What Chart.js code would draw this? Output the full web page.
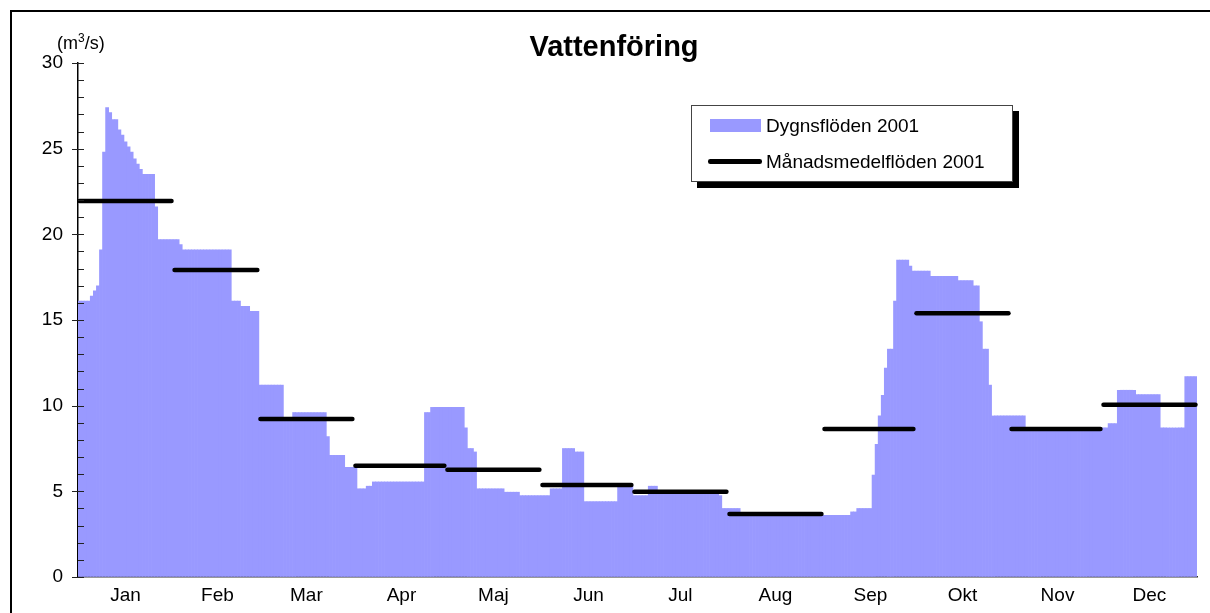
<!DOCTYPE html>
<html>
<head>
<meta charset="utf-8">
<title>Vattenföring</title>
<script src="https://cdn.jsdelivr.net/npm/chart.js"></script>
<style>
  body { margin: 0; background: #fff; overflow: hidden; font-family: 'Liberation Sans', Arial, sans-serif; }
  #wrap { position: relative; width: 1210px; height: 613px; }
  #frame { position: absolute; left: 10px; top: 10px; width: 1400px; height: 800px; border-left: 2px solid #000; border-top: 2px solid #000; pointer-events: none; }
  #title { position: absolute; left: 614px; top: 29px; transform: translateX(-50%); font-size: 29px; line-height: 34px; font-weight: bold; color: #000; white-space: nowrap; }
  #unit { position: absolute; left: 57px; top: 33px; font-size: 18px; line-height: 20px; color: #000; }
  #unit sup { font-size: 12px; line-height: 0; vertical-align: 7px; }
  #legend { position: absolute; left: 691px; top: 105px; width: 320px; height: 75px; border: 1px solid #444; background: #fff; box-shadow: 6px 6px 0 #000; }
  #legend .txt { position: absolute; left: 74px; font-size: 19px; line-height: 22px; color: #000; white-space: nowrap; }
  #legend .swatch { position: absolute; left: 18px; top: 13px; width: 51px; height: 13px; background: #9999ff; }
  #legend .bar { position: absolute; left: 16px; top: 53px; width: 54px; height: 4.5px; border-radius: 2.25px; background: #000; }
</style>
</head>
<body>
<div id="wrap">
  <canvas id="myChart"></canvas>
  <div id="title">Vattenföring</div>
  <div id="unit">(m<sup>3</sup>/s)</div>
  <div id="legend">
    <div class="swatch"></div><div class="txt" style="top:9px">Dygnsflöden 2001</div>
    <div class="bar"></div><div class="txt" style="top:45px">Månadsmedelflöden 2001</div>
  </div>
  <div id="frame"></div>
</div>
<script>
const monthNames = ['Jan', 'Feb', 'Mar', 'Apr', 'Maj', 'Jun', 'Jul', 'Aug', 'Sep', 'Okt', 'Nov', 'Dec']

// daily flows 2001 (m3/s), one array per month
const jan = [16.1, 16.1, 16.1, 16.1, 16.4, 16.7, 17.0, 19.1, 24.8, 27.4, 27.1, 26.7, 26.7, 26.1, 25.8, 25.4,
  25.1, 24.8, 24.4, 24.1, 23.8, 23.5, 23.5, 23.5, 23.5, 21.6, 19.7, 19.7, 19.7, 19.7, 19.7]
const feb = [19.7, 19.7, 19.4, 19.1, 19.1, 19.1, 19.1, 19.1, 19.1, 19.1, 19.1, 19.1, 19.1, 19.1, 19.1, 19.1,
  19.1, 19.1, 19.1, 16.1, 16.1, 16.1, 15.8, 15.8, 15.8, 15.5, 15.5, 15.5]
const mar = [11.2, 11.2, 11.2, 11.2, 11.2, 11.2, 11.2, 11.2, 9.3, 9.3, 9.3, 9.6, 9.6, 9.6, 9.6, 9.6,
  9.6, 9.6, 9.6, 9.6, 9.6, 9.6, 8.2, 7.1, 7.1, 7.1, 7.1, 7.1, 6.4, 6.4, 6.4]
const apr = [6.4, 5.15, 5.15, 5.15, 5.3, 5.3, 5.55, 5.55, 5.55, 5.55, 5.55, 5.55, 5.55, 5.55, 5.55, 5.55,
  5.55, 5.55, 5.55, 5.55, 5.55, 5.55, 5.55, 9.6, 9.6, 9.9, 9.9, 9.9, 9.9, 9.9]
const may = [9.9, 9.9, 9.9, 9.9, 9.9, 9.9, 8.7, 7.5, 7.5, 7.3, 5.15, 5.15, 5.15, 5.15, 5.15, 5.15,
  5.15, 5.15, 5.15, 4.95, 4.95, 4.95, 4.95, 4.95, 4.75, 4.75, 4.75, 4.75, 4.75, 4.75, 4.75]
const jun = [4.75, 4.75, 4.75, 5.15, 5.15, 5.15, 5.15, 7.5, 7.5, 7.5, 7.5, 7.3, 7.3, 7.3, 4.4, 4.4,
  4.4, 4.4, 4.4, 4.4, 4.4, 4.4, 4.4, 4.4, 4.4, 5.3, 5.3, 5.3, 5.3, 5.3]
const jul = [4.75, 4.75, 4.75, 4.75, 4.75, 5.3, 5.3, 5.3, 5.0, 5.0, 5.0, 5.0, 5.0, 5.0, 5.0, 5.0,
  5.0, 5.0, 5.0, 5.0, 5.0, 5.0, 5.0, 5.0, 5.0, 5.0, 5.0, 5.0, 4.75, 4.0, 4.0]
const aug = [4.0, 4.0, 4.0, 4.0, 3.55, 3.55, 3.55, 3.55, 3.55, 3.55, 3.55, 3.55, 3.55, 3.55, 3.55, 3.55,
  3.55, 3.55, 3.55, 3.55, 3.55, 3.55, 3.55, 3.55, 3.55, 3.55, 3.55, 3.55, 3.55, 3.55, 3.55]
const sep = [3.6, 3.6, 3.6, 3.6, 3.6, 3.6, 3.6, 3.6, 3.6, 3.8, 3.8, 4.0, 4.0, 4.0, 4.0, 4.0,
  5.95, 7.75, 9.4, 10.6, 12.2, 13.3, 13.3, 16.1, 18.5, 18.5, 18.5, 18.5, 18.15, 17.85]
const oct = [17.85, 17.85, 17.85, 17.85, 17.85, 17.55, 17.55, 17.55, 17.55, 17.55, 17.55, 17.55, 17.55, 17.55, 17.3, 17.3,
  17.3, 17.3, 17.3, 17.0, 17.0, 14.9, 13.3, 13.3, 11.2, 9.4, 9.4, 9.4, 9.4, 9.4, 9.4]
const nov = [9.4, 9.4, 9.4, 9.4, 9.4, 8.55, 8.55, 8.55, 8.55, 8.55, 8.55, 8.55, 8.55, 8.55, 8.55, 8.55,
  8.55, 8.55, 8.55, 8.55, 8.55, 8.55, 8.55, 8.55, 8.55, 8.55, 8.55, 8.55, 8.55, 8.55]
const dec = [8.7, 8.7, 8.95, 8.95, 8.95, 10.9, 10.9, 10.9, 10.9, 10.9, 10.9, 10.65, 10.65, 10.65, 10.65, 10.65,
  10.65, 10.65, 10.65, 8.7, 8.7, 8.7, 8.7, 8.7, 8.7, 8.7, 8.7, 11.7, 11.7, 11.7, 11.7]

// monthly mean flows 2001 (m3/s)
const monthMeans = [21.95, 17.92, 9.22, 6.5, 6.26, 5.37, 4.98, 3.68, 8.64, 15.4, 8.64, 10.06]

const yTickLabels = [0, 5, 10, 15, 20, 25, 30]

const dailyByMonth = [jan, feb, mar, apr, may, jun, jul, aug, sep, oct, nov, dec]
const dailyFlow = dailyByMonth.flat()
const dayLabels = dailyFlow.map((v, i) => String(i + 1))

// month index of every day, used for the mean line and the x labels
const dayMonth = []
dailyByMonth.forEach((days, m) => days.forEach(() => dayMonth.push(m)))
const meanLine = dayMonth.map(m => monthMeans[m])

// month name is put under the middle day of each month
const labelAt = {}
let first = 0
dailyByMonth.forEach((days, m) => {
  labelAt[first + Math.floor(days.length / 2)] = monthNames[m]
  first += days.length
})

Chart.defaults.font.family = "'Liberation Sans', Arial, sans-serif"
Chart.defaults.color = '#000'

// small tick marks on the y axis: majors cross the axis, minors point inward
const yTicks = {
  id: 'yTicks',
  afterDraw(chart) {
    const ctx = chart.ctx
    const y = chart.scales.y
    const x0 = chart.chartArea.left
    ctx.save()
    ctx.strokeStyle = '#222'
    ctx.lineWidth = 1
    for (let v = y.min; v <= y.max; v++) {
      const py = Math.round(y.getPixelForValue(v)) + 0.5
      ctx.beginPath()
      ctx.moveTo(yTickLabels.includes(v) ? x0 - 6 : x0, py)
      ctx.lineTo(x0 + 6, py)
      ctx.stroke()
    }
    ctx.restore()
  }
}

const ctx = document.getElementById('myChart').getContext('2d')
const myChart = new Chart(ctx, {
  type: 'bar',
  data: {
    labels: dayLabels,
    datasets: [{
      type: 'line',
      label: 'Månadsmedelflöden 2001',
      data: meanLine,
      borderColor: '#000',
      borderWidth: 4.5,
      borderCapStyle: 'round',
      pointRadius: 0,
      tension: 0,
      order: 0,
      segment: {
        // no line between two months
        borderColor: c => dayMonth[c.p0DataIndex] === dayMonth[c.p1DataIndex] ? '#000' : 'rgba(0,0,0,0)'
      }
    }, {
      label: 'Dygnsflöden 2001',
      data: dailyFlow,
      backgroundColor: '#9999ff',
      borderWidth: 0,
      barPercentage: 1,
      categoryPercentage: 1,
      order: 1
    }]
  },
  options: {
    responsive: true,
    maintainAspectRatio: false,
    animation: false,
    layout: { padding: { left: 0, top: 63, right: 13, bottom: 0 } },
    plugins: {
      legend: { display: false },
      title: { display: false },
      tooltip: { enabled: false }
    },
    scales: {
      x: {
        ticks: {
          autoSkip: false,
          maxRotation: 0,
          minRotation: 0,
          padding: 7,
          font: { size: 19 },
          callback: (v, i) => labelAt[i] || ''
        },
        grid: { drawOnChartArea: false, drawTicks: false },
        border: { color: '#333', width: 1.5 },
        afterFit: s => { s.height = 36 }
      },
      y: {
        min: 0,
        max: 30,
        ticks: { stepSize: 5, padding: 15, font: { size: 19 } },
        grid: { drawOnChartArea: false, drawTicks: false },
        border: { color: '#000', width: 1.5 },
        afterFit: s => { s.width = 78 }
      }
    }
  },
  plugins: [yTicks]
})
</script>
</body>
</html>
